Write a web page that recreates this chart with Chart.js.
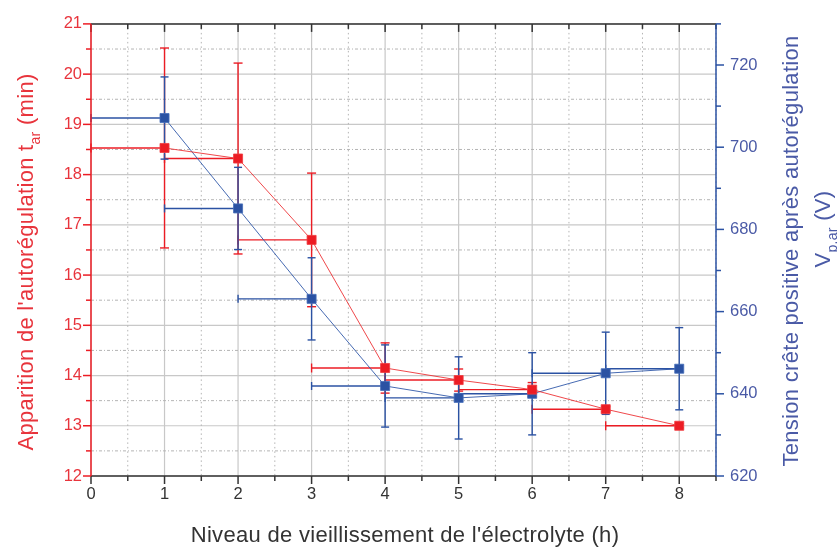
<!DOCTYPE html>
<html>
<head>
<meta charset="utf-8">
<script src="https://cdn.jsdelivr.net/npm/chart.js@4.4.0/dist/chart.umd.min.js"></script>
<style>
  html, body { margin: 0; padding: 0; background: #fff; }
</style>
</head>
<body>
<canvas id="chart" width="837" height="548"></canvas>
<script>
// Niveau de vieillissement de l'électrolyte (h)
const hours = [1, 2, 3, 4, 5, 6, 7, 8];
// barre d'erreur horizontale, vers la gauche uniquement
const hoursErrLeft = [1, 1, 1, 1, 1, 1, 1, 1];

// Apparition de l'autorégulation t_ar (min)
const tAr = [18.53, 18.32, 16.70, 14.15, 13.91, 13.72, 13.33, 13.00];
const tArErr = [1.99, 1.90, 1.33, 0.50, 0.22, 0.14, 0.05, 0.04];

// Tension crête positive après autorégulation V_p,ar (V)
const vPeak = [707.1, 685.1, 663.1, 641.9, 639.0, 640.0, 645.0, 646.1];
const vPeakErr = [10, 10, 10, 10, 10, 10, 10, 10];

// graduations
const xTicks = [0, 1, 2, 3, 4, 5, 6, 7, 8];
const leftTicks = [12, 13, 14, 15, 16, 17, 18, 19, 20, 21];
const rightTicks = [620, 640, 660, 680, 700, 720];

const RED = '#ec1c24';
const RED_LINE = 'rgba(236, 40, 44, 0.85)';
const RED_TEXT = '#e8343c';
const BLUE = '#2b52a3';
const BLUE_LINE = 'rgba(50, 90, 170, 0.9)';
const BLUE_TEXT = '#4a5aa6';
const DARK = '#333333';
const GRID = '#c8c8c8';
const FONT = '"Liberation Sans", Arial, sans-serif';

// demi-graduations entre deux graduations principales
function minorValues(ticks, max) {
    const step = ticks[1] - ticks[0];
    const out = [];
    ticks.forEach(t => {
        const m = t + step / 2;
        if (m <= max + 1e-9) out.push(m);
    });
    return out;
}

function strokeLine(ctx, x1, y1, x2, y2) {
    ctx.beginPath();
    ctx.moveTo(x1, y1);
    ctx.lineTo(x2, y2);
    ctx.stroke();
}

// Grille type Origin : traits pleins aux graduations, pointillés aux demi
const gridPlugin = {
    id: 'originGrid',
    beforeDatasetsDraw(chart) {
        const { ctx, chartArea: a, scales } = chart;
        const x = scales.x, yL = scales.yL;
        ctx.save();
        ctx.strokeStyle = GRID;
        ctx.lineWidth = 1.2;
        xTicks.forEach(v => {
            const px = x.getPixelForValue(v);
            strokeLine(ctx, px, a.top, px, a.bottom);
        });
        leftTicks.forEach(v => {
            const py = yL.getPixelForValue(v);
            strokeLine(ctx, a.left, py, a.right, py);
        });
        ctx.strokeStyle = '#b4b4b4';
        ctx.lineWidth = 1;
        ctx.setLineDash([1.5, 3]);
        minorValues(xTicks, x.max).forEach(v => {
            const px = x.getPixelForValue(v);
            strokeLine(ctx, px, a.top, px, a.bottom);
        });
        ctx.setLineDash([3, 2, 1, 2]);
        minorValues(leftTicks, yL.max).forEach(v => {
            const py = yL.getPixelForValue(v);
            strokeLine(ctx, a.left, py, a.right, py);
        });
        ctx.restore();
    }
};

// Barres d'erreur (verticales symétriques, horizontales vers la gauche)
const errorBarPlugin = {
    id: 'errorBars',
    beforeDatasetsDraw(chart) {
        const { ctx, scales } = chart;
        const x = scales.x;
        chart.data.datasets.forEach(ds => {
            const y = scales[ds.yAxisID];
            ctx.save();
            ctx.strokeStyle = ds.errColor;
            ctx.lineWidth = 1.4;
            ds.data.forEach((p, i) => {
                const px = x.getPixelForValue(p.x);
                const py = y.getPixelForValue(p.y);
                const top = y.getPixelForValue(p.y + ds.errY[i]);
                const bot = y.getPixelForValue(p.y - ds.errY[i]);
                const left = x.getPixelForValue(p.x - ds.errXLeft[i]);
                const cap = ds.capHalf;
                strokeLine(ctx, px, top, px, bot);
                strokeLine(ctx, px - cap, top, px + cap, top);
                strokeLine(ctx, px - cap, bot, px + cap, bot);
                strokeLine(ctx, left, py, px, py);
                strokeLine(ctx, left, py - cap, left, py + cap);
            });
            ctx.restore();
        });
    }
};

// Cadre et graduations (majeures / mineures)
const framePlugin = {
    id: 'frame',
    afterDatasetsDraw(chart) {
        const { ctx, chartArea: a, scales } = chart;
        const x = scales.x, yL = scales.yL, yR = scales.yR;
        ctx.save();
        ctx.lineWidth = 1.5;

        // haut et bas
        ctx.strokeStyle = DARK;
        strokeLine(ctx, a.left, a.top, a.right, a.top);
        strokeLine(ctx, a.left, a.bottom, a.right, a.bottom);
        xTicks.forEach(v => {
            const px = x.getPixelForValue(v);
            strokeLine(ctx, px, a.bottom, px, a.bottom + 8);
            strokeLine(ctx, px, a.top, px, a.top + 8);
        });
        minorValues(xTicks, x.max).forEach(v => {
            const px = x.getPixelForValue(v);
            strokeLine(ctx, px, a.bottom, px, a.bottom + 5);
            strokeLine(ctx, px, a.top, px, a.top + 5);
        });

        // axe gauche
        ctx.strokeStyle = RED;
        strokeLine(ctx, a.left, a.top, a.left, a.bottom);
        leftTicks.forEach(v => {
            const py = yL.getPixelForValue(v);
            strokeLine(ctx, a.left - 8, py, a.left, py);
        });
        minorValues(leftTicks, yL.max).forEach(v => {
            const py = yL.getPixelForValue(v);
            strokeLine(ctx, a.left - 5, py, a.left, py);
        });

        // axe droit
        ctx.strokeStyle = BLUE;
        strokeLine(ctx, a.right, a.top, a.right, a.bottom);
        rightTicks.forEach(v => {
            const py = yR.getPixelForValue(v);
            strokeLine(ctx, a.right, py, a.right + 8, py);
        });
        minorValues(rightTicks, yR.max).forEach(v => {
            const py = yR.getPixelForValue(v);
            strokeLine(ctx, a.right, py, a.right + 5, py);
        });
        ctx.restore();
    }
};

// texte avec indice (dessiné dans le repère courant)
function drawSubText(ctx, parts, cx, cy, size, color) {
    const subSize = Math.round(size * 0.62);
    ctx.letterSpacing = '0.3px';
    let total = 0;
    parts.forEach(p => {
        ctx.font = (p.sub ? subSize : size) + 'px ' + FONT;
        p.w = ctx.measureText(p.t).width;
        total += p.w;
    });
    let xx = cx - total / 2;
    ctx.fillStyle = color;
    ctx.textBaseline = 'alphabetic';
    ctx.textAlign = 'left';
    parts.forEach(p => {
        ctx.font = (p.sub ? subSize : size) + 'px ' + FONT;
        ctx.fillText(p.t, xx, cy + (p.sub ? size * 0.3 : 0));
        xx += p.w;
    });
}

const titlePlugin = {
    id: 'axisTitles',
    afterDraw(chart) {
        const { ctx } = chart;
        ctx.save();
        // titre x
        drawSubText(ctx, [{ t: "Niveau de vieillissement de l'électrolyte (h)" }], 405, 542, 22, DARK);

        // titre gauche
        ctx.save();
        ctx.translate(33, 262);
        ctx.rotate(-Math.PI / 2);
        drawSubText(ctx, [
            { t: "Apparition de l'autorégulation t" },
            { t: 'ar', sub: true },
            { t: ' (min)' }
        ], 0, 0, 22, RED_TEXT);
        ctx.restore();

        // titre droit, deux lignes
        ctx.save();
        ctx.translate(798, 251);
        ctx.rotate(-Math.PI / 2);
        drawSubText(ctx, [{ t: 'Tension crête positive après autorégulation' }], 0, 0, 22, BLUE_TEXT);
        drawSubText(ctx, [
            { t: 'V' },
            { t: 'p,ar', sub: true },
            { t: ' (V)' }
        ], 22, 32, 22, BLUE_TEXT);
        ctx.restore();

        ctx.restore();
    }
};

const tickFont = { family: FONT, size: 16.5 };

new Chart(document.getElementById('chart'), {
    type: 'scatter',
    data: {
        datasets: [
            {
                label: 't_ar',
                data: hours.map((h, i) => ({ x: h, y: tAr[i] })),
                yAxisID: 'yL',
                showLine: true,
                borderColor: RED_LINE,
                borderWidth: 1,
                backgroundColor: RED,
                pointStyle: 'rect',
                pointRadius: 6.4,
                pointBorderColor: 'rgba(240, 60, 64, 0.8)',
                pointBorderWidth: 1,
                errY: tArErr,
                errXLeft: hoursErrLeft,
                errColor: RED,
                capHalf: 4.5
            },
            {
                label: 'V_p,ar',
                data: hours.map((h, i) => ({ x: h, y: vPeak[i] })),
                yAxisID: 'yR',
                showLine: true,
                borderColor: BLUE_LINE,
                borderWidth: 1,
                backgroundColor: BLUE,
                pointStyle: 'rect',
                pointRadius: 6.4,
                pointBorderColor: 'rgba(70, 110, 185, 0.8)',
                pointBorderWidth: 1,
                errY: vPeakErr,
                errXLeft: hoursErrLeft,
                errColor: BLUE,
                capHalf: 4
            }
        ]
    },
    options: {
        responsive: false,
        animation: false,
        devicePixelRatio: 1,
        layout: { padding: { top: 16, left: 0, right: 0, bottom: 0 } },
        plugins: {
            legend: { display: false },
            tooltip: { enabled: false }
        },
        scales: {
            x: {
                type: 'linear',
                position: 'bottom',
                min: 0,
                max: 8.5,
                afterBuildTicks: s => { s.ticks = xTicks.map(v => ({ value: v })); },
                afterFit: s => { s.height = 72; },
                grid: { display: false, drawTicks: false },
                border: { display: false },
                ticks: { color: DARK, font: tickFont, padding: 9, maxRotation: 0, autoSkip: false }
            },
            yL: {
                type: 'linear',
                position: 'left',
                min: 12,
                max: 21,
                afterBuildTicks: s => { s.ticks = leftTicks.map(v => ({ value: v })); },
                afterFit: s => { s.width = 91; },
                grid: { display: false, drawTicks: false },
                border: { display: false },
                ticks: { color: RED_TEXT, font: tickFont, padding: 9, autoSkip: false }
            },
            yR: {
                type: 'linear',
                position: 'right',
                min: 620,
                max: 730,
                afterBuildTicks: s => { s.ticks = rightTicks.map(v => ({ value: v })); },
                afterFit: s => { s.width = 121; },
                grid: { display: false, drawTicks: false },
                border: { display: false },
                ticks: { color: BLUE_TEXT, font: tickFont, padding: 14, autoSkip: false }
            }
        }
    },
    plugins: [gridPlugin, errorBarPlugin, framePlugin, titlePlugin]
});
</script>
</body>
</html>
